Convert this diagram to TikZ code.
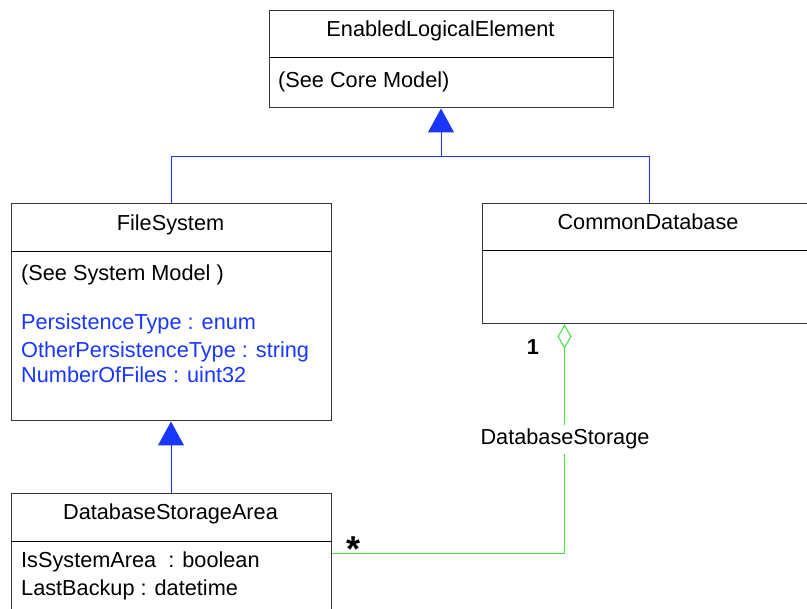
\documentclass[tikz,border=0pt]{standalone}
\usepackage{fontspec}
\setmainfont{Liberation Sans}
\usetikzlibrary{arrows.meta}
\definecolor{umlblue}{RGB}{25,55,255}
\definecolor{umlgreen}{RGB}{60,230,60}
\definecolor{umledge}{RGB}{55,55,55}
\tikzset{
  umlfont/.style={font=\fontsize{21.7}{26}\selectfont},
  classbox/.style={draw=umledge, line width=1pt, fill=white, anchor=north west, inner sep=0pt},
  divider/.style={draw=black, line width=1pt},
  title/.style={umlfont, anchor=base, inner sep=0pt},
  attr/.style={umlfont, anchor=base west, inner sep=0pt},
  gen/.style={draw=umlblue, line width=1pt},
  genhead/.style={gen, -{Triangle[width=26pt,length=24pt]}},
  aggr/.style={draw=umlgreen, line width=1pt, -{Diamond[open,width=14pt,length=24pt]}},
  mult/.style={font=\fontsize{21.7}{26}\selectfont\bfseries, anchor=base, inner sep=0pt},
}
\begin{document}
\begin{tikzpicture}[x=1pt,y=-1pt]
\useasboundingbox (0,0) rectangle (807,609);

% class boxes
\node[classbox, minimum width=320pt, minimum height=217pt] (fs)  at (10.5,203.5)  {};
\node[classbox, minimum width=344pt, minimum height=97pt]  (ele) at (268.5,10.5)  {};
\node[classbox, minimum width=334pt, minimum height=120pt] (cd)  at (481.5,203.5) {};
\node[classbox, minimum width=320pt, minimum height=130pt] (dsa) at (10.5,493.5)  {};

% compartment dividers
\draw[divider] ([yshift=-47pt]ele.north west) -- ([yshift=-47pt]ele.north east);
\draw[divider] ([yshift=-48pt]fs.north west)  -- ([yshift=-48pt]fs.north east);
\draw[divider] ([yshift=-47pt]cd.north west)  -- ([yshift=-47pt]cd.north east);
\draw[divider] ([yshift=-48pt]dsa.north west) -- ([yshift=-48pt]dsa.north east);

% EnabledLogicalElement
\node[title] (eleT) at (440.5,37) {EnabledLogicalElement};
\node[attr]  (eleA) at (278,88)   {(See Core Model)};

% FileSystem
\node[title] (fsT)  at (170.5,231) {FileSystem};
\node[attr]  (fsA0) at (21,281) {(See System Model )};
\node[attr, text=umlblue] (fsA1) at (21,330) {PersistenceType : enum};
\node[attr, text=umlblue] (fsA2) at (21,358) {OtherPersistenceType : string};
\node[attr, text=umlblue] (fsA3) at (21,383) {NumberOfFiles : uint32};

% CommonDatabase
\node[title] (cdT) at (648,230) {CommonDatabase};

% DatabaseStorageArea
\node[title] (dsaT)  at (170.5,520) {DatabaseStorageArea};
\node[attr]  (dsaA1) at (21,568) {IsSystemArea\ \ : boolean};
\node[attr]  (dsaA2) at (21,596) {LastBackup : datetime};

% inheritance
\coordinate (gj) at ([yshift=-48pt]ele.south);
\draw[gen] (fs.north) |- (gj) -| (cd.north);
\draw[genhead] (gj) -- (ele.south);
\draw[genhead] (dsa.north) -- (fs.south);

% aggregation DatabaseStorage
\draw[aggr] ([yshift=-60pt]dsa.north east) -| ([xshift=83pt]cd.south west);
\node[umlfont, fill=white, inner sep=0pt, anchor=base, minimum height=29pt, text depth=4pt] (asc) at (565,445) {DatabaseStorage};
\node[mult] (m1) at (533,355) {1};
\node[font=\fontsize{36}{40}\selectfont\bfseries, anchor=north, inner sep=0pt] (mstar) at (354,537) {*};
\end{tikzpicture}
\end{document}
